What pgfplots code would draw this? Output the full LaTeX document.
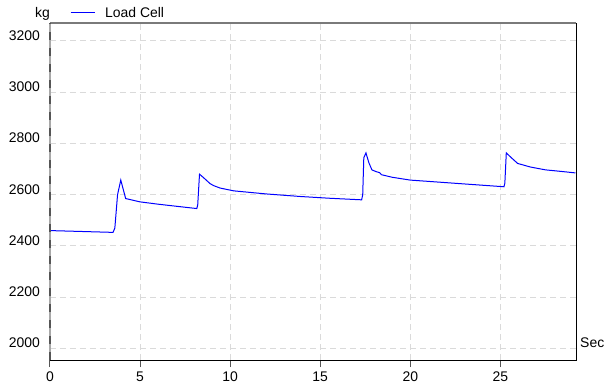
\documentclass[border=0pt]{standalone}
\usepackage{pgfplots}
\pgfplotsset{compat=1.18}
\usepackage{fontspec}
\setmainfont{Liberation Sans}
\definecolor{gridc}{HTML}{DADADA}
\definecolor{topc}{HTML}{7A7A7A}
\definecolor{leftc}{HTML}{A8A8A8}
\definecolor{leftd}{HTML}{555555}
\begin{document}
\fontsize{14}{16}\selectfont
\begin{tikzpicture}
\begin{axis}[
  scale only axis,
  width=526bp, height=337bp,
  xmin=0, xmax=29.2, ymin=1955, ymax=3270,
  xtick={0,5,10,15,20,25},
  ytick={2000,2200,2400,2600,2800,3000,3200},
  xtick pos=bottom, ytick pos=left,
  tick align=outside,
  major tick length=7bp,
  xtick style={draw=leftd, line width=1bp},
  ytick style={draw=none},
  axis line style={draw=none},
  grid=major,
  major grid style={draw=gridc, line width=1bp, dash pattern=on 6bp off 4bp},
  /pgf/number format/assume math mode=true,
  /pgf/number format/1000 sep={},
  ticklabel style={font=\fontsize{14}{16}\selectfont},
  yticklabel style={anchor=base east, inner sep=0pt, xshift=-3bp, yshift=0.5bp},
  xticklabel style={anchor=north, inner sep=0pt, yshift=-5bp},
  legend style={at={(axis description cs:0,1)}, anchor=west, xshift=20bp, yshift=10bp,
    draw=none, fill=none, inner sep=0pt, font=\fontsize{14}{16}\selectfont,
    legend cell align=left},
  legend image code/.code={\draw[#1] (0bp,0bp) -- (24bp,0bp); \path (32bp,0bp);},
  clip=false,
]
\addplot[blue, line width=1bp] coordinates {
(0,2460) (1,2458) (2,2456) (3,2454) (3.5,2453) (3.6,2470) (3.75,2600) (3.93,2657)
(4.05,2625) (4.2,2585) (5,2572) (6,2563) (7,2555) (8.15,2546) (8.2,2560) (8.3,2680)
(8.5,2668) (8.89,2643) (9.1,2635) (9.44,2626) (10.2,2615) (12,2603) (13.9,2593)
(15.56,2586) (17.3,2580) (17.36,2600) (17.42,2744) (17.54,2763) (17.7,2725)
(17.87,2697) (18.1,2690) (18.3,2686) (18.4,2678) (19,2668) (20,2657) (22,2647)
(24,2637) (25.2,2631) (25.25,2645) (25.33,2763) (25.6,2745) (25.96,2722)
(26.67,2708) (27.5,2697) (28.5,2690) (29.17,2685)
};
\addlegendentry{Load Cell}
\draw[black, line width=1bp] (rel axis cs:0,0) -- (rel axis cs:1,0) -- (rel axis cs:1,1);
\draw[topc, line width=2bp] (rel axis cs:0,1) -- (rel axis cs:1,1);
\draw[leftc, line width=2bp] (rel axis cs:0,0) -- (rel axis cs:0,1);
\draw[leftd, line width=1.5bp, dash pattern=on 8bp off 8bp] (rel axis cs:0,0) -- (rel axis cs:0,1);
\node[anchor=base east, inner sep=0pt] at ([yshift=5bp]rel axis cs:0,1) {kg};
\node[anchor=west, inner sep=0pt] at ([xshift=4bp]rel axis cs:1,0.05) {Sec};
\end{axis}
\path ([xshift=-50bp,yshift=-30bp]current axis.south west) -- ([xshift=40bp,yshift=23bp]current axis.north east);
\end{tikzpicture}
\end{document}
